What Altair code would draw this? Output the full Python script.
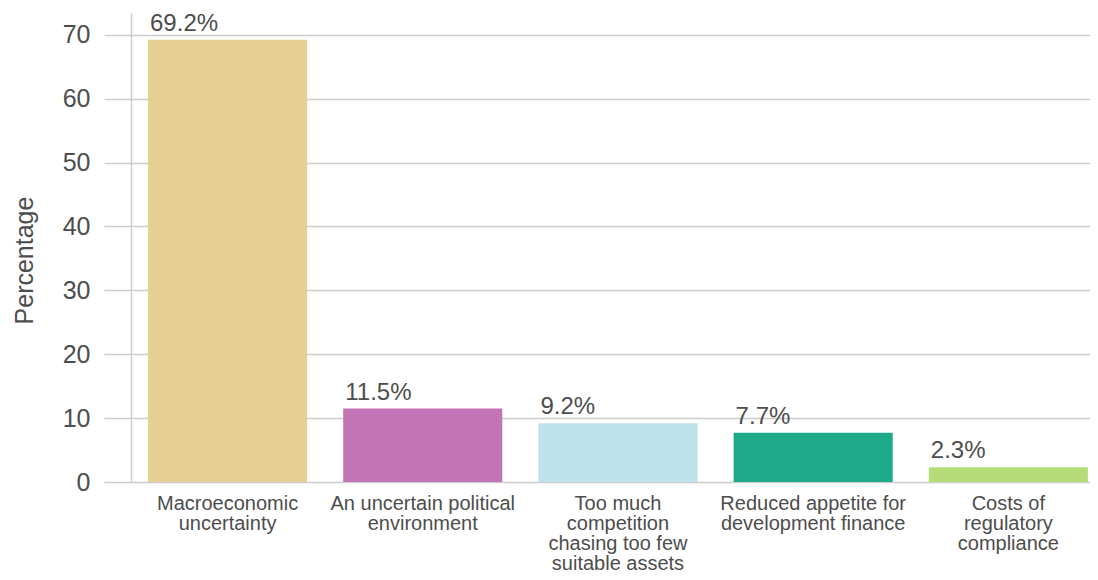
import altair as alt
import pandas as pd

categories = [
    "Macroeconomic|uncertainty",
    "An uncertain political|environment",
    "Too much|competition|chasing too few|suitable assets",
    "Reduced appetite for|development finance",
    "Costs of|regulatory|compliance",
]
values = [69.2, 11.5, 9.2, 7.7, 2.3]
colors = ["#E6CF92", "#C175B5", "#BFE1EC", "#1DAA88", "#B4DD77"]
y_ticks = [0, 10, 20, 30, 40, 50, 60, 70]

df = pd.DataFrame({"category": categories, "value": values})

FONT = "Liberation Sans"
TEXT = "#4d4d4d"
GRID = "#cccccc"

xscale = alt.Scale(paddingInner=0.185, paddingOuter=0.049, align=0.89)
yscale = alt.Scale(domain=[0, 73.4], nice=False)

base = alt.Chart(df)

bars = base.mark_bar().encode(
    x=alt.X(
        "category:N",
        sort=categories,
        scale=xscale,
        axis=alt.Axis(
            title=None,
            labelAngle=0,
            domain=False,
            ticks=False,
            tickSize=0,
            labelFont=FONT,
            labelFontSize=20,
            labelLineHeight=20,
            labelColor=TEXT,
            labelPadding=11,
            labelLimit=400,
            labelExpr="split(datum.label, '|')",
        ),
    ),
    y=alt.Y(
        "value:Q",
        scale=yscale,
        axis=alt.Axis(
            title="Percentage",
            values=y_ticks,
            grid=True,
            gridColor=GRID,
            gridWidth=1.5,
            tickSize=27,
            tickColor=GRID,
            tickWidth=1.5,
            domainColor=GRID,
            domainWidth=1.5,
            labelFont=FONT,
            labelFontSize=25,
            labelColor=TEXT,
            labelPadding=14,
            titleFont=FONT,
            titleFontSize=25,
            titleFontWeight="normal",
            titleColor=TEXT,
            titleAngle=270,
            titleAlign="center",
            titleBaseline="middle",
            titleX=-107,
            titleY=247,
        ),
    ),
    color=alt.Color(
        "category:N",
        scale=alt.Scale(domain=categories, range=colors),
        legend=None,
    ),
)

labels = base.transform_calculate(
    label="format(datum.value, '.1f') + '%'"
).mark_text(
    align="left",
    baseline="alphabetic",
    dx=2,
    dy=-9,
    font=FONT,
    fontSize=24,
    color=TEXT,
).encode(
    x=alt.X("category:N", sort=categories, scale=xscale, bandPosition=0),
    y=alt.Y("value:Q", scale=yscale),
    text="label:N",
)

chart = (
    alt.layer(bars, labels)
    .properties(
        width=959,
        height=469,
        autosize=alt.AutoSizeParams(type="none"),
        padding={"left": 123, "top": 5, "right": 0, "bottom": 90},
        background="white",
    )
    .configure_view(stroke=None)
)

chart.save("out.html", embed_options={"renderer": "svg", "actions": False})
